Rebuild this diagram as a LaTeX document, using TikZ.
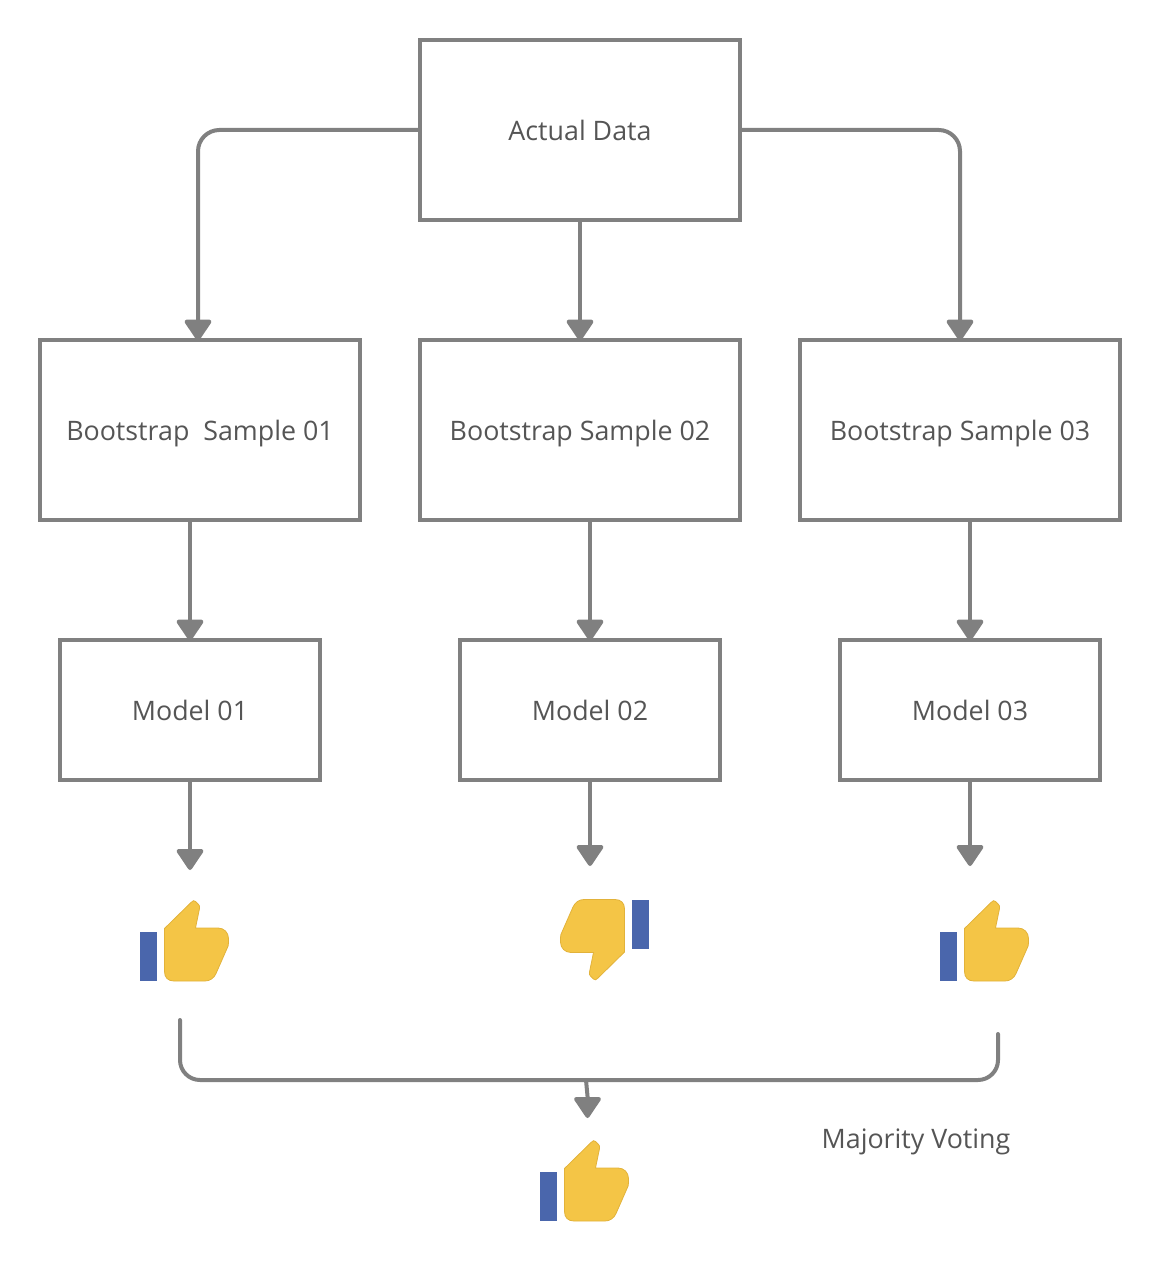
\documentclass[tikz,border=0pt]{standalone}
\usepackage{fontspec}
\setmainfont{Open Sans}
\usetikzlibrary{arrows.meta}

\definecolor{linegray}{HTML}{808080}
\definecolor{textgray}{HTML}{555555}
\definecolor{thumbfill}{HTML}{F4C546}
\definecolor{thumbedge}{HTML}{E2B23A}
\definecolor{cuffblue}{HTML}{4A66AC}

\tikzset{
    box/.style={draw=linegray, line width=3pt, minimum height=135pt, minimum width=240pt, inner sep=0pt},
    modelbox/.style={box, minimum height=105pt, minimum width=195pt},
    flow/.style={draw=linegray, line width=3pt, -{Triangle[width=22pt,length=17pt,round]}},
    intobox/.style={flow, shorten >=-2pt},
    brace/.style={draw=linegray, line width=3pt, line cap=round, rounded corners=15pt},
    thumb/.pic={
        \fill[cuffblue] (-45,-8.5) rectangle (-28,40.5);
        \filldraw[fill=thumbfill, draw=thumbedge, line width=0.6pt]
            (-20.5,-12) -- (6,-38) .. controls (8,-40) and (9,-40.5) .. (10.5,-39)
            -- (13.5,-36) .. controls (14.5,-35) and (15,-34) .. (14.5,-32)
            -- (10.5,-12.5) -- (33,-12.5) .. controls (39,-12.5) and (43.5,-8) .. (43.5,-2)
            -- (43.5,2) .. controls (43.5,5) and (43,6) .. (42,8)
            -- (31,33) .. controls (29,37.5) and (25,40.5) .. (20,40.5)
            -- (-11,40.5) .. controls (-17,40.5) and (-20.5,37) .. (-20.5,31) -- cycle;
    }
}

\begin{document}
\begin{tikzpicture}[
    x=0.75pt,
    y=-0.75pt,
    every node/.style={font=\fontsize{20.1pt}{24pt}\selectfont, text=textgray, text height=18pt, text depth=2pt}
]
\useasboundingbox (0,0) rectangle (1160,1262);

% ---------------- Boxes ----------------
\node[box] (actual) at (580,130) {Actual Data};
\node[box] (s1) at (200,430) {Bootstrap\ \ Sample 01};
\node[box] (s2) at (580,430) {Bootstrap Sample 02};
\node[box] (s3) at (960,430) {Bootstrap Sample 03};
\node[modelbox] (m1) at (190,710) {Model 01};
\node[modelbox] (m2) at (590,710) {Model 02};
\node[modelbox] (m3) at (970,710) {Model 03};
\node (vote) at (916,1138) {Majority Voting};

% ---------------- Free ends ----------------
\coordinate (v1) at (190,870);
\coordinate (v2) at (590,866);
\coordinate (v3) at (970,866);
\coordinate (bl) at (180,1020);
\coordinate (br) at (998,1034);
\coordinate (bmid) at (586,1080);
\coordinate (bkink) at (587.5,1096);
\coordinate (result) at (587.5,1118);

% ---------------- Thumbs ----------------
\pic at (185,940.5) {thumb};
\pic[rotate=180] at (604,940) {thumb};
\pic at (985,940.5) {thumb};
\pic at (585,1180.5) {thumb};

% ---------------- Arrows ----------------
\draw[intobox, rounded corners=16pt] (actual.west) -| ([xshift=-1.5pt]s1.north);
\draw[intobox, rounded corners=16pt] (actual.east) -| (s3.north);
\draw[intobox] (actual) -- (s2);

\draw[intobox] (m1.north |- s1.south) -- (m1.north);
\draw[intobox] (m2.north |- s2.south) -- (m2.north);
\draw[intobox] (m3.north |- s3.south) -- (m3.north);

\draw[flow] (m1) -- (v1);
\draw[flow] (m2) -- (v2);
\draw[flow] (m3) -- (v3);

% Majority vote
\draw[brace] (bl) |- (bmid) -| (br);
\draw[flow] (bmid) -- (bkink) -- (result);

\end{tikzpicture}
\end{document}
